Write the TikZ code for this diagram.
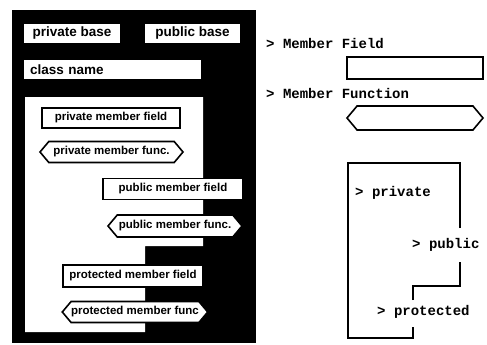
\documentclass[tikz,border=0pt]{standalone}
\usepackage{fontspec}
\setmainfont{Liberation Sans}
\newfontfamily\legendfont{Liberation Mono}
\usetikzlibrary{shapes.symbols}

\tikzset{
  panel/.style={fill=black},
  basebox/.style={fill=white, inner sep=0pt, font=\fontsize{13.5}{14}\selectfont\bfseries},
  fieldbox/.style={draw, fill=white, line width=1.6pt, inner sep=0pt, font=\fontsize{11.5}{12}\selectfont\bfseries},
  funcbox/.style={fieldbox, signal, signal to=west and east, signal pointer angle=100},
  legendtext/.style={anchor=west, inner sep=0pt, font=\legendfont\fontsize{14}{14}\selectfont\bfseries},
  outline/.style={line width=1.8pt}
}

\begin{document}
\begin{tikzpicture}[x=1pt, y=-1pt]
	\useasboundingbox (0,0) rectangle (487,345);
	
	% class panel
	\fill[panel] (12,10) rectangle (256,343);
	\fill[white] (25,97) -- (203,97) -- (203,246) -- (145,246) -- (145,332) -- (25,332) -- cycle;
	
	\node[basebox, minimum width=96pt, minimum height=19pt] (privbase) at (72,33.5) {private base};
	\node[basebox, minimum width=95pt, minimum height=19pt] (pubbase) at (192.5,33.5) {public base};
	\node[basebox, minimum width=177pt, minimum height=19pt, text width=165pt, align=left] (classname) at (112.5,69.5) {class name};
	
	\node[fieldbox, minimum width=138pt, minimum height=20pt] (privfield) at (111,118) {private member field};
	\node[funcbox, minimum width=143pt, minimum height=21pt] (privfunc) at (111.5,152) {private member func.};
	\node[fieldbox, minimum width=140pt, minimum height=21pt] (pubfield) at (173,189) {public member field};
	\node[funcbox, minimum width=134pt, minimum height=22pt] (pubfunc) at (175,226) {public member func.};
	\node[fieldbox, minimum width=140pt, minimum height=22pt] (protfield) at (133,276) {protected member field};
	\node[funcbox, minimum width=136pt, minimum height=21pt] (protfunc) at (135,312) {protected member func};
	
	% legend
	\node[legendtext] (fieldlabel) at (266,43) {> Member Field};
	\node[fieldbox, minimum width=136pt, minimum height=22pt] (fieldkey) at (415,68) {};
	\node[legendtext] (funclabel) at (266,93) {> Member Function};
	\node[funcbox, minimum width=136pt, minimum height=24pt] (funckey) at (415,118) {};
	
	\node[legendtext] (privlabel) at (355,193) {> private};
	\node[legendtext] (publabel) at (412,245) {> public};
	\node[legendtext] (protlabel) at (377,312) {> protected};
	\draw[outline] (460,228) -- (460,163) -- (348,163) -- (348,338) -- (413,338) -- (413,327);
	\draw[outline] (413,300) -- (413,286) -- (460,286) -- (460,262);
\end{tikzpicture}
\end{document}
